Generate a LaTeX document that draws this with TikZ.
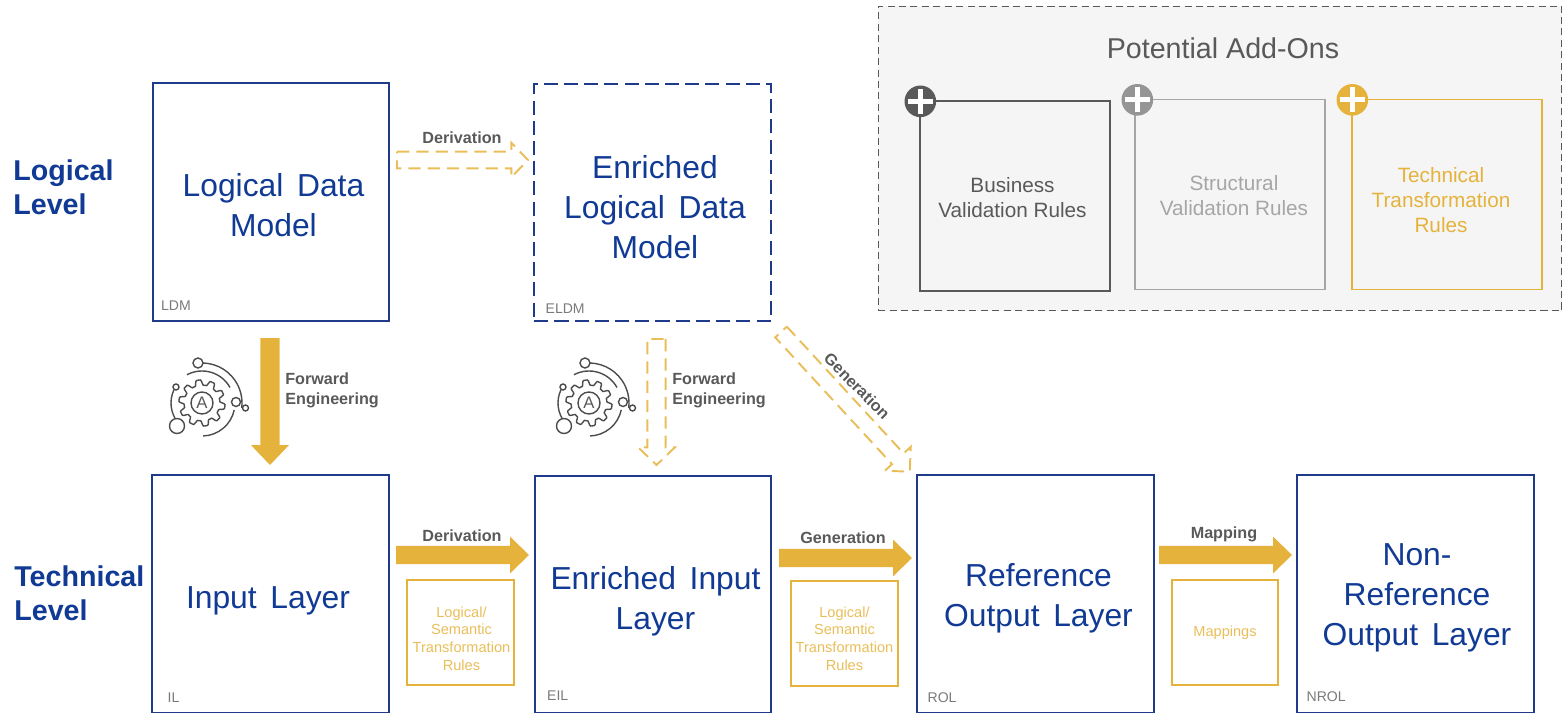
\documentclass[tikz,border=0pt]{standalone}
\usepackage{fontspec}
\setmainfont{Liberation Sans}
\usepackage{xcolor}
\usetikzlibrary{calc}

\definecolor{navy}{HTML}{1F3A8A}
\definecolor{titleblue}{HTML}{103A94}
\definecolor{gold}{HTML}{E5B33C}
\definecolor{darkgrey}{HTML}{595959}
\definecolor{midgrey}{HTML}{A6A6A6}

\newcommand{\widegap}{\hspace{7.8pt}}

\tikzset{
	layerbox/.style = {draw = navy, line width = 1.1pt, minimum width = 134.6pt, minimum height = 135.2pt, inner sep = 0pt},
	layertext/.style = {align = center, inner sep = 0pt, text = titleblue, font = \fontsize{18.1}{22.7}\selectfont},
	tag/.style = {anchor = south west, text = darkgrey!80, font = \fontsize{8}{10}\selectfont, inner sep = 0pt},
	levelname/.style = {anchor = west, align = left, text = titleblue, inner sep = 0pt, font = \fontsize{16.3}{19.5}\selectfont\bfseries},
	arrowname/.style = {text = darkgrey, inner sep = 0pt, font = \fontsize{9.2}{11.4}\selectfont\bfseries},
	rulebox/.style = {draw = gold, line width = 1.2pt, minimum width = 60.5pt, minimum height = 59.7pt, inner sep = 0pt},
	ruletext/.style = {align = center, inner sep = 0pt, text = gold!85, font = \fontsize{8.3}{10}\selectfont},
	addcard/.style = {draw = #1, fill = black!4, line width = 0.9pt, minimum width = 108pt, minimum height = 108pt, inner sep = 0pt},
	cardtext/.style = {align = center, inner sep = 0pt, text = #1, font = \fontsize{11.8}{14.2}\selectfont},
	plusdisc/.style = {circle, fill = #1, minimum size = 18pt, inner sep = 0pt, path picture = {
		\draw [white, line width = 3pt] ($(path picture bounding box.center)+(-7.2pt,0)$) -- ($(path picture bounding box.center)+(7.2pt,0)$);
		\draw [white, line width = 3pt] ($(path picture bounding box.center)+(0,-7.2pt)$) -- ($(path picture bounding box.center)+(0,7.2pt)$);
	}},
	solidblock/.style = {fill = gold, draw = none},
	hollowblock/.style = {draw = gold!85, line width = 1.1pt, dash pattern = on 7pt off 4pt},
	iconline/.style = {draw = darkgrey!85!black, line width = 0.8pt},
	gearicon/.pic = {
		\draw [iconline, domain = 0:360, samples = 181, smooth] plot ({\x}:{20.5+2.6*max(-1,min(1,2*sin(10*\x)))});
		\draw [iconline] (0,0) circle (11);
		\draw [iconline] (-95:40) arc [start angle = -95, end angle = 7, radius = 40];
		\draw [iconline] (-118:32) arc [start angle = -118, end angle = -29, radius = 32];
		\draw [iconline] (88:33) arc [start angle = 88, end angle = 12, radius = 33];
		\draw [iconline] (205:31) arc [start angle = 205, end angle = 140, radius = 31];
		\draw [iconline, fill = white] (-4,-40) circle (5);
		\draw [iconline, fill = white] (43.5,5) circle (3);
		\draw [iconline, fill = white] (34,-1) circle (4.5);
		\draw [iconline, fill = white] (-26,-16) circle (3);
		\draw [iconline, fill = white] (-25,23) circle (7.5);
		\node [text = darkgrey, inner sep = 0pt, font = \fontsize{9.5}{11}\selectfont] at (0,0) {A};
	},
}

% style, from, to, half shaft, half head, head length (pt)
\newcommand{\blockarrow}[6]{
	\path [#1] let \p1 = ($(#3)-(#2)$), \n1 = {atan2(\y1,\x1)}, \n2 = {veclen(\x1,\y1)} in
		[shift = {(#2)}, rotate = \n1]
		(0pt,#4pt) -- ({\n2-#6pt},#4pt) -- ({\n2-#6pt},#5pt) -- (\n2,0pt) -- ({\n2-#6pt},-#5pt) -- ({\n2-#6pt},-#4pt) -- (0pt,-#4pt) -- cycle;
}

\begin{document}
\begin{tikzpicture}[x = 0.02cm, y = -0.02cm]
	\useasboundingbox (0,0) rectangle (1563,713);
	\clip (0,0) rectangle (1563,713);

	\node [levelname] (logical) at (13,187) {Logical\\Level};
	\node [levelname] (technical) at (14,593.5) {Technical\\Level};

	\node [layerbox] (ldm) at (271,202) {};
	\node [layerbox, dashed, dash pattern = on 8pt off 3.5pt] (eldm) at (652.5,202.5) {};
	\node [layerbox] (il) at (270.5,594) {};
	\node [layerbox] (eil) at (653,594.5) {};
	\node [layerbox] (rol) at (1035.5,594) {};
	\node [layerbox] (nrol) at (1415.5,594) {};

	\node [layertext] (ldmtext) at (273.5,205.5) {Logical\widegap Data\\Model};
	\node [layertext] (eldmtext) at (655,207) {Enriched\\Logical\widegap Data\\Model};
	\node [layertext] (iltext) at (268,601) {Input\widegap Layer};
	\node [layertext] (eiltext) at (655.5,601) {Enriched\widegap Input\\Layer};
	\node [layertext] (roltext) at (1038.5,598) {Reference\\Output\widegap Layer};
	\node [layertext] (nroltext) at (1417,598) {Non-\\Reference\\Output\widegap Layer};

	\node [tag] (ldmtag) at ($(ldm.south west)+(9,-11)$) {LDM};
	\node [tag] (eldmtag) at ($(eldm.south west)+(12,-8)$) {ELDM};
	\node [tag] (iltag) at ($(il.south west)+(16,-11)$) {IL};
	\node [tag] (eiltag) at ($(eil.south west)+(13,-13)$) {EIL};
	\node [tag] (roltag) at ($(rol.south west)+(11,-11)$) {ROL};
	\node [tag] (nroltag) at ($(nrol.south west)+(10,-12)$) {NROL};

	\node [rulebox] (rulesa) at (460.5,632.5) {};
	\node [rulebox] (rulesb) at (844.5,633.5) {};
	\node [rulebox] (rulesc) at (1225,632.5) {};
	\node [ruletext] (rulesatext) at (461.5,638.5) {Logical/\\Semantic\\Transformation\\Rules};
	\node [ruletext] (rulesbtext) at (844.5,638.5) {Logical/\\Semantic\\Transformation\\Rules};
	\node [ruletext] (rulesctext) at (1225,633) {Mappings};

	% arrows
	\coordinate (feastart) at (270,338);
	\coordinate (feaend) at (270,465);
	\coordinate (dvastart) at (396,555);
	\coordinate (dvaend) at (529,555);
	\coordinate (gnastart) at (779,558);
	\coordinate (gnaend) at (912,558);
	\coordinate (mpastart) at (1159,555);
	\coordinate (mpaend) at (1292,555);
	\coordinate (dvbstart) at (397,160);
	\coordinate (dvbend) at (528,160);
	\coordinate (febstart) at (656.5,339);
	\coordinate (febend) at (656.5,465);
	\coordinate (gnbstart) at (781,332);
	\coordinate (gnbend) at (910,472);
	\blockarrow{solidblock}{feastart}{feaend}{5.5}{10.8}{11.3}
	\blockarrow{solidblock}{dvastart}{dvaend}{5.2}{10.5}{10.8}
	\blockarrow{solidblock}{gnastart}{gnaend}{5.2}{10.5}{10.8}
	\blockarrow{solidblock}{mpastart}{mpaend}{5.2}{10.5}{10.8}
	\blockarrow{hollowblock}{dvbstart}{dvbend}{4.8}{9.8}{9.5}
	\blockarrow{hollowblock}{febstart}{febend}{5.2}{10.4}{10}
	\blockarrow{hollowblock}{gnbstart}{gnbend}{4.5}{10}{10}

	\node [arrowname, align = left, anchor = west] (fealabel) at (285,390) {Forward\\Engineering};
	\node [arrowname, align = left, anchor = west] (feblabel) at (672,390) {Forward\\Engineering};
	\node [arrowname] (dvblabel) at (462,138) {Derivation};
	\node [arrowname, rotate = -45] (gnblabel) at (857,386) {Generation};
	\node [arrowname] (dvalabel) at (462,536) {Derivation};
	\node [arrowname] (gnalabel) at (843,538) {Generation};
	\node [arrowname] (mpalabel) at (1224,534) {Mapping};

	\pic (geara) at (202,403) {gearicon};
	\pic (gearb) at (589,403) {gearicon};

	% add-ons
	\node [draw = darkgrey, fill = black!4, dashed, dash pattern = on 4pt off 2.5pt, line width = 0.6pt, minimum width = 389.2pt, minimum height = 173.5pt, inner sep = 0pt] (addons) at (1220,158.5) {};
	\node [text = darkgrey, inner sep = 0pt, font = \fontsize{16.3}{20}\selectfont] (addonstitle) at (1223,48) {Potential Add-Ons};

	\node [addcard = darkgrey] (cardb) at (1015,196) {};
	\node [addcard = midgrey] (cards) at (1230,194.5) {};
	\node [addcard = gold] (cardt) at (1447,194.5) {};
	\node [cardtext = darkgrey] (cardbtext) at (1012.5,198) {Business\\Validation Rules};
	\node [cardtext = midgrey] (cardstext) at (1234,196) {Structural\\Validation Rules};
	\node [cardtext = gold] (cardttext) at (1441,200.5) {Technical\\Transformation\\Rules};
	\node [plusdisc = darkgrey] (plusb) at ($(cardb.north west)+(1,1)$) {};
	\node [plusdisc = midgrey!90!black] (pluss) at ($(cards.north west)+(3,1)$) {};
	\node [plusdisc = gold] (plust) at ($(cardt.north west)+(1,1)$) {};
\end{tikzpicture}
\end{document}
